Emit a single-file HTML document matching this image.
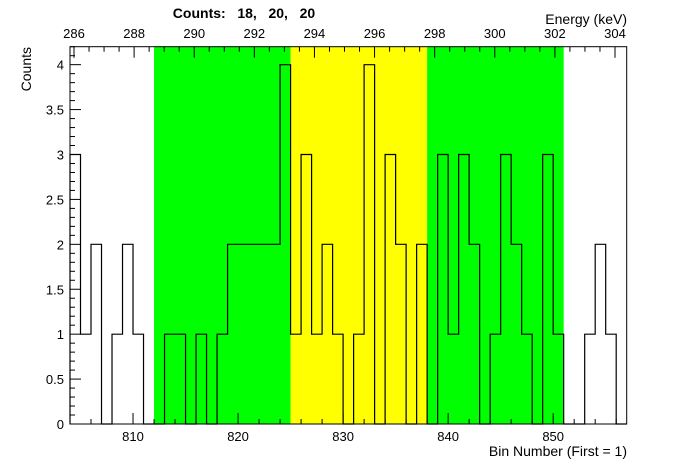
<!DOCTYPE html>
<html><head><meta charset="utf-8"><style>
html,body{margin:0;padding:0;background:#fff;}
svg{display:block;font-family:"Liberation Sans",Arial,sans-serif;}
</style></head><body>
<svg id="chart" width="696" height="472" viewBox="0 0 696 472">
<text x="244" y="18" font-size="14" font-weight="bold" text-anchor="middle" xml:space="preserve">Counts:   18,   20,   20</text>
<text x="627" y="24" font-size="14" text-anchor="end">Energy (keV)</text>
<text x="627" y="456" font-size="14" text-anchor="end">Bin Number (First = 1)</text>
<text transform="translate(31,47) rotate(-90)" font-size="14" text-anchor="end">Counts</text>
<g id="regions"></g>
<g id="hist"></g>
<g id="axes"></g>
<rect x="70" y="46.7" width="556.7" height="377.3" fill="none" stroke="#000" stroke-width="1"/>
</svg>
<script>
const binStart = 804;
const counts = [3,1,2,0,1,2,1,0, 0,1,1,0,1,0,1,2,2,2,2,2,4, 1,3,1,2,1,0,1,4,0,3,2,0,2, 0,3,1,3,2,0,1,3,2,1,0,3,1, 0,0,1,2,1,0];
const regionLo = [812, 825, 838];
const regionHi = [825, 838, 851];
const regionColors = ['#00ff00', '#ffff00', '#00ff00'];
const xTickLabels = [810, 820, 830, 840, 850];
const yTickLabels = ['0','0.5','1','1.5','2','2.5','3','3.5','4'];
const eTickLabels = [286, 288, 290, 292, 294, 296, 298, 300, 302, 304];

const NS = 'http://www.w3.org/2000/svg';
const X0 = 70, X1 = 626.7, Y0 = 424, Y1 = 46.7;
const xMin = binStart, xMax = binStart + counts.length;
const yMax = 4.2;
const E0 = 286, Epx0 = 74, Epx1 = 615, E1 = 304;
const sx = v => X0 + (v - xMin) / (xMax - xMin) * (X1 - X0);
const sy = v => Y0 - v / yMax * (Y0 - Y1);
const se = e => Epx0 + (e - E0) / (E1 - E0) * (Epx1 - Epx0);
function mk(tag, attrs, parent) {
  const el = document.createElementNS(NS, tag);
  for (const k in attrs) el.setAttribute(k, attrs[k]);
  parent.appendChild(el);
  return el;
}
const regions = document.getElementById('regions');
regionLo.forEach((lo, i) => {
  const r = mk('rect', {x: sx(lo), y: Y1, width: sx(regionHi[i]) - sx(lo), height: Y0 - Y1, fill: regionColors[i]}, regions);
  
  
});
// histogram outline
let d = 'M' + sx(xMin) + ',' + sy(0);
counts.forEach((c, i) => {
  d += ' L' + sx(xMin + i) + ',' + sy(c) + ' L' + sx(xMin + i + 1) + ',' + sy(c);
});
d += ' L' + sx(xMax) + ',' + sy(0);
const hist = mk('path', {d: d, fill: 'none', stroke: '#000', 'stroke-width': 1.2}, document.getElementById('hist'));



const axes = document.getElementById('axes');
// bottom ticks
for (let v = xMin; v <= xMax; v++) {
  if (v % 2) continue;
  const major = v % 10 === 0;
  const t = mk('line', {x1: sx(v), x2: sx(v), y1: Y0, y2: Y0 - (major ? 11 : 5), stroke: '#000'}, axes);
  
  
}
xTickLabels.forEach(v => {
  const t = mk('text', {x: sx(v), y: Y0 + 17, 'font-size': 13, 'text-anchor': 'middle'}, axes);
  t.textContent = v;
  
  
});
// y ticks
for (let i = 0; i <= 42; i++) {
  const v = i / 10;
  const major = i % 5 === 0;
  const t = mk('line', {x1: X0, x2: X0 + (major ? 11 : 5), y1: sy(v), y2: sy(v), stroke: '#000'}, axes);
  
  
}
yTickLabels.forEach(s => {
  const t = mk('text', {x: 64, y: sy(parseFloat(s)) + 5, 'font-size': 13, 'text-anchor': 'end'}, axes);
  t.textContent = s;
  
  
});
// top energy axis
for (let e = E0; e <= E1 + 0.01; e += 0.5) {
  const major = Math.abs(e % 2) < 0.01;
  const t = mk('line', {x1: se(e), x2: se(e), y1: Y1, y2: Y1 + (major ? 11 : 5), stroke: '#000'}, axes);
  
  
}
eTickLabels.forEach(e => {
  const t = mk('text', {x: se(e), y: 38, 'font-size': 13, 'text-anchor': 'middle'}, axes);
  t.textContent = e;
  
  
});
</script>
</body></html>
